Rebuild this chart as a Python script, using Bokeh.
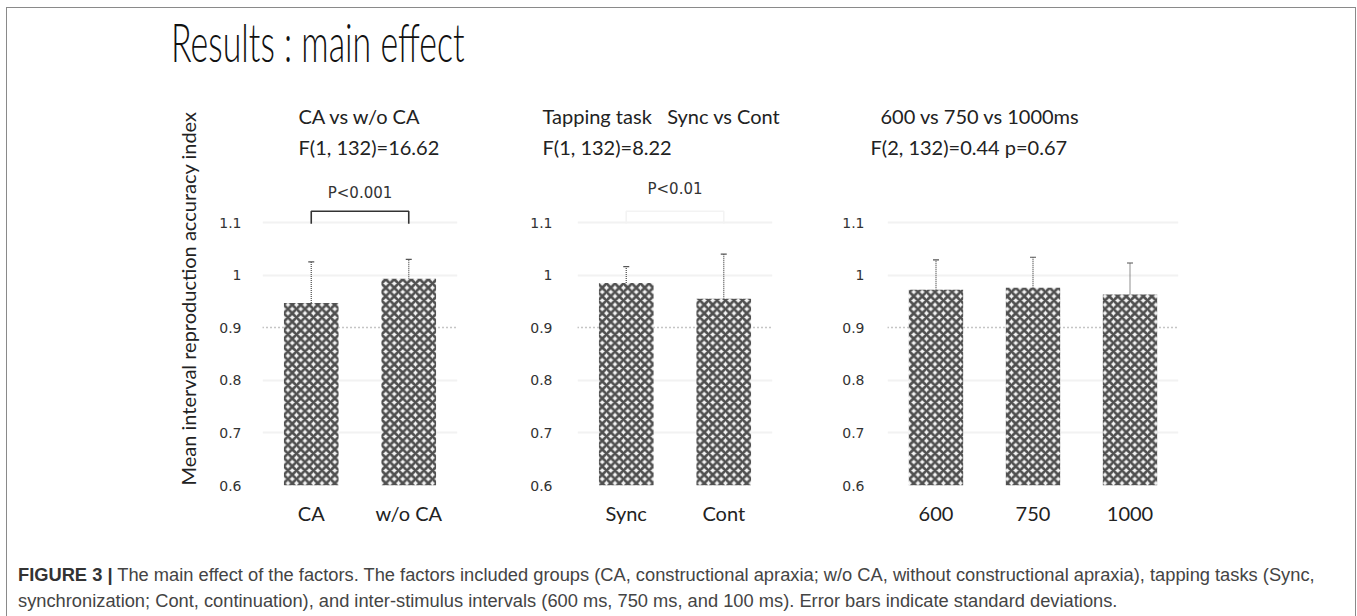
from bokeh.plotting import figure
from bokeh.models import (ColumnDataSource, FactorRange, Range1d, FixedTicker, Grid,
                          Whisker, TeeHead, Label, Div, Title)
from bokeh.layouts import row, column
from bokeh.embed import file_html
from bokeh.resources import INLINE

# ---------------- data ----------------
y_ticks = [0.6, 0.7, 0.8, 0.9, 1.0, 1.1]
y_tick_labels = ["0.6", "0.7", "0.8", "0.9", "1", "1.1"]

group_cats = ["CA", "w/o CA"]
group_means = [0.947, 0.993]
group_sds = [0.078, 0.037]

task_cats = ["Sync", "Cont"]
task_means = [0.985, 0.955]
task_sds = [0.031, 0.085]

isi_cats = ["600", "750", "1000"]
isi_means = [0.972, 0.976, 0.963]
isi_sds = [0.057, 0.058, 0.060]

panel_titles = ["CA vs w/o CA", "Tapping task\u00a0\u00a0 Sync vs Cont", "600 vs 750 vs 1000ms"]
panel_stats = ["F(1, 132)=16.62", "F(1, 132)=8.22", "F(2, 132)=0.44 p=0.67"]
p_labels = ["P<0.001", "P<0.01", ""]

main_title = "Results : main effect"
y_label = "Mean interval reproduction accuracy index"
caption_bold = "FIGURE 3 |"
caption_l1 = ("The main effect of the factors. The factors included groups (CA, constructional apraxia; "
              "w/o CA, without constructional apraxia), tapping tasks (Sync,")
caption_l2 = ("synchronization; Cont, continuation), and inter-stimulus intervals (600 ms, 750 ms, and 100 ms). "
              "Error bars indicate standard deviations.")

# ---------------- layout constants ----------------
Y_BOTTOM = 0.6
Y_TOP = 1.2084
PANEL_H = 442
BRACKET_LOW, BRACKET_HIGH = 1.0975, 1.1215


def make_panel(cats, means, sds, title, stat, plabel, plabel_y, bracket_color,
               width, left, right, y_standoff, x_standoff, off1, off2, show_ylabel):
    src = ColumnDataSource(dict(
        cat=cats, mean=means, upper=[m + s for m, s in zip(means, sds)],
    ))
    p = figure(x_range=FactorRange(*cats, range_padding=0, factor_padding=0),
               y_range=Range1d(Y_BOTTOM, Y_TOP), title=None,
               width=width, height=PANEL_H, output_backend="svg",
               toolbar_location=None, min_border_left=left, min_border_right=right,
               min_border_top=69, min_border_bottom=53)
    p.outline_line_color = None
    p.background_fill_color = "white"
    p.border_fill_color = "white"
    p.xgrid.visible = False
    p.ygrid.ticker = FixedTicker(ticks=[0.7, 0.8, 1.0, 1.1])
    p.ygrid.grid_line_color = "#f2f2f2"
    p.ygrid.grid_line_width = 2

    g09 = Grid(dimension=1, ticker=FixedTicker(ticks=[0.9]),
               grid_line_color="#8a8a8a", grid_line_dash="1 3", grid_line_width=1.3)
    p.add_layout(g09)

    p.vbar(x="cat", top="mean", bottom=Y_BOTTOM, width=0.56, source=src,
           fill_color="#f4f4f4", line_color=None,
           hatch_pattern="diagonal_cross", hatch_color="#505050",
           hatch_scale=8.5, hatch_weight=2.7)

    w = Whisker(source=src, base="cat", lower="mean", upper="upper",
                line_color="#555555", line_dash="1 1", line_width=1.3,
                upper_head=TeeHead(size=6, line_color="#555555", line_width=1.2),
                lower_head=None)
    p.add_layout(w)

    g06 = Grid(dimension=1, ticker=FixedTicker(ticks=[0.6]), level="overlay",
               grid_line_color="#444444", grid_line_dash="2 4", grid_line_width=1.6)
    p.add_layout(g06)

    if plabel:
        if bracket_color:
            p.line(x=[cats[0], cats[0], cats[1], cats[1]],
                   y=[BRACKET_LOW, BRACKET_HIGH, BRACKET_HIGH, BRACKET_LOW],
                   line_color=bracket_color, line_width=1.6)
        p.add_layout(Label(x=len(cats) / 2, y=plabel_y, text=plabel, text_align="center",
                           text_baseline="middle", text_font="DejaVu Sans",
                           text_font_size="15px", text_color="#333333"))

    # header lines (stat line nearest to the frame, then the title line)
    p.add_layout(Title(text=stat, align="left", offset=off2, standoff=13,
                       text_font="Lato", text_font_size="20px",
                       text_font_style="normal", text_color="#222222"), "above")
    p.add_layout(Title(text=title, align="left", offset=off1, standoff=-3,
                       text_font="Lato", text_font_size="20px",
                       text_font_style="normal", text_color="#222222"), "above")

    # y axis
    p.yaxis.ticker = FixedTicker(ticks=y_ticks)
    p.yaxis.major_label_overrides = {t: l for t, l in zip(y_ticks, y_tick_labels)}
    p.yaxis.axis_line_color = None
    p.yaxis.major_tick_line_color = None
    p.yaxis.minor_tick_line_color = None
    p.yaxis.major_label_standoff = y_standoff
    p.yaxis.major_label_text_font = "DejaVu Sans"
    p.yaxis.major_label_text_font_size = "14px"
    p.yaxis.major_label_text_color = "#333333"
    if show_ylabel:
        p.add_layout(Title(text=y_label, align="left", offset=0, standoff=33,
                           text_font="Lato", text_font_size="20px",
                           text_font_style="normal", text_color="#222222"), "left")

    # x axis
    p.xaxis.axis_line_color = None
    p.xaxis.major_tick_line_color = None
    p.xaxis.minor_tick_line_color = None
    p.xaxis.major_label_standoff = x_standoff
    p.xaxis.major_label_text_font = "Lato"
    p.xaxis.major_label_text_font_size = "20px"
    p.xaxis.major_label_text_color = "#222222"
    return p


p1 = make_panel(group_cats, group_means, group_sds, panel_titles[0], panel_stats[0],
                p_labels[0], 1.1557, "#333333", 463, 255, 13, 15, 9, 36, 36, True)
p2 = make_panel(task_cats, task_means, task_sds, panel_titles[1], panel_stats[1],
                p_labels[1], 1.1646, "#f3f3f3", 320, 107, 18, 19, 9, -35, -35, False)
p3 = make_panel(isi_cats, isi_means, isi_sds, panel_titles[2], panel_stats[2],
                p_labels[2], None, None, 565, 97, 177, 17, 15, -7, -17, False)

title_div = Div(width=1348, height=88, margin=0, text=(
    '<div style="padding-left:164px;padding-top:5px;white-space:nowrap;">'
    '<span style="display:inline-block;font-family:Lato;font-weight:300;font-size:53px;'
    'line-height:58px;color:#111;transform:scaleX(0.64);transform-origin:left center;">'
    + main_title + '</span></div>'))

caption_div = Div(width=1348, height=78, margin=0, text=(
    '<div style="padding-left:11px;padding-top:24px;font-family:\'Liberation Sans\',Arial,sans-serif;'
    'font-size:18.3px;line-height:26px;color:#444;white-space:nowrap;">'
    '<b style="color:#333">' + caption_bold + '</b> ' + caption_l1 + '<br>' + caption_l2 + '</div>'))

body = row(p1, p2, p3, spacing=0)
layout = column(title_div, body, caption_div, spacing=0,
                styles={"margin-left": "6px", "margin-top": "7px",
                        "border-top": "1px solid #8a8a8a", "border-left": "1px solid #8a8a8a",
                        "border-right": "1px solid #8a8a8a"})

open("out.html", "w").write(file_html(layout, INLINE))
